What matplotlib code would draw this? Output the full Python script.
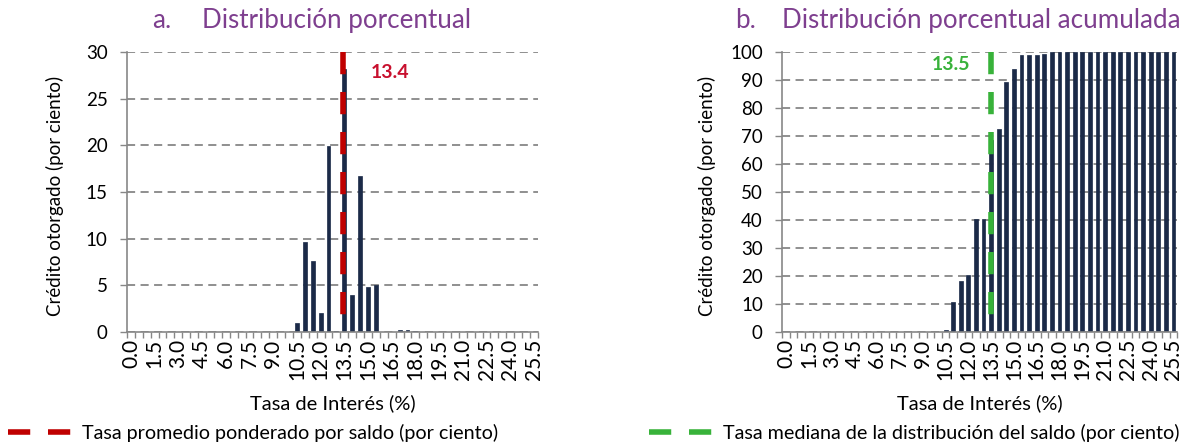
import matplotlib
matplotlib.use("Agg")
import matplotlib.pyplot as plt

plt.rcParams['font.family'] = ['Lato', 'DejaVu Sans']

# categorias de tasa de interes (%)
tasas = [0.0, 0.5, 1.0, 1.5, 2.0, 2.5, 3.0, 3.5, 4.0, 4.5, 5.0, 5.5, 6.0, 6.5,
         7.0, 7.5, 8.0, 8.5, 9.0, 9.5, 10.0, 10.5, 11.0, 11.5, 12.0, 12.5,
         13.0, 13.5, 14.0, 14.5, 15.0, 15.5, 16.0, 16.5, 17.0, 17.5, 18.0,
         18.5, 19.0, 19.5, 20.0, 20.5, 21.0, 21.5, 22.0, 22.5, 23.0, 23.5,
         24.0, 24.5, 25.0, 25.5]

# a. distribucion porcentual (por ciento)
distribucion = [0] * 21 + [1.0, 9.7, 7.6, 2.0, 19.9, 0.1, 28.2, 4.0, 16.7,
                           4.8, 5.0, 0.05, 0.0, 0.25, 0.25, 0.15] + [0] * 15

# b. distribucion porcentual acumulada (por ciento)
acumulada = [0] * 21 + [0.8, 10.6, 18.1, 20.3, 40.3, 40.4, 68.5, 72.3, 89.1,
                        93.9, 99.0, 99.0, 99.0, 99.4, 99.8, 100.0] + [100.0] * 15

tasa_media = 13.4
tasa_mediana = 13.5

navy = '#1b2a48'
grey = '#878787'
purple = '#7e3f8f'
red = '#c00000'
green = '#38b23a'

fig = plt.figure(figsize=(11.98, 4.47), dpi=100)
ax1 = fig.add_axes([0.106, 0.257, 0.343, 0.627])
ax2 = fig.add_axes([0.653, 0.257, 0.3297, 0.627])

x = list(range(len(tasas)))
step = tasas[1] - tasas[0]


def base_axes(ax, values, ymax, ystep):
    ax.bar(x, values, width=0.5, color=navy, edgecolor=navy, linewidth=0.5, zorder=2)
    ax.set_xlim(-0.5, len(tasas) - 0.5)
    ax.set_ylim(0, ymax)
    ax.set_yticks(range(0, ymax + 1, ystep))
    ax.set_xticks(x[::3])
    ax.set_xticklabels([f"{t:.1f}" for t in tasas[::3]], rotation=90, fontsize=15)
    ax.set_xticks([i - 0.5 for i in range(len(tasas) + 1)], minor=True)
    ax.tick_params(axis='x', which='major', length=0, pad=5)
    ax.tick_params(axis='x', which='minor', length=4, width=1, color=grey)
    ax.tick_params(axis='y', length=5, width=1, color=grey, labelsize=13.5, pad=9)
    for s in ['top', 'right']:
        ax.spines[s].set_visible(False)
    for s in ['left', 'bottom']:
        ax.spines[s].set_color(grey)
        ax.spines[s].set_linewidth(1.2)
    ax.yaxis.grid(True, linestyle=(0, (4.5, 3)), color=grey, linewidth=1.3)
    ax.set_axisbelow(True)
    ax.set_xlabel('Tasa de Interés (%)', fontsize=14.5, va='center')
    ax.xaxis.set_label_coords(0.5, -0.253)
    ax.set_ylabel('Crédito otorgado (por ciento)', fontsize=13.5, va='center')


base_axes(ax1, distribucion, 30, 5)
base_axes(ax2, acumulada, 100, 10)
ax1.yaxis.set_label_coords(-0.175, 0.486)
ax2.yaxis.set_label_coords(-0.19, 0.486)

pos_media = (tasa_media - tasas[0]) / step
pos_mediana = (tasa_mediana - tasas[0]) / step
l1, = ax1.plot([pos_media, pos_media], [30, 0], color=red, lw=4,
               dashes=(4, 3.2), zorder=3,
               label='Tasa promedio ponderado por saldo (por ciento)')
l2, = ax2.plot([pos_mediana, pos_mediana], [100, 0], color=green, lw=4,
               dashes=(4, 3.2), zorder=3,
               label='Tasa mediana de la distribución del saldo (por ciento)')

ax1.text(32.8, 27.75, f"{tasa_media:.1f}", color='#c8102e', fontsize=14,
         fontweight='bold', ha='center', va='center')
ax2.text(21.7, 95.4, f"{tasa_mediana:.1f}", color=green, fontsize=14,
         fontweight='bold', ha='center', va='center')

# titulos
fig.text(152 / 1198, 1 - 28 / 447, 'a.', color=purple, fontsize=18.7, va='baseline')
fig.text(202 / 1198, 1 - 28 / 447, 'Distribución porcentual', color=purple,
         fontsize=18.7, va='baseline')
fig.text(735 / 1198, 1 - 28 / 447, 'b.', color=purple, fontsize=18.7, va='baseline')
fig.text(782 / 1198, 1 - 28 / 447, 'Distribución porcentual acumulada',
         color=purple, fontsize=18.7, va='baseline')

# leyendas
fig.legend(handles=[l1], loc='center left', bbox_to_anchor=(8 / 1198, 1 - 433 / 447),
           frameon=False, fontsize=14.2, handlelength=3.3, handletextpad=0.45,
           borderpad=0, borderaxespad=0)
fig.legend(handles=[l2], loc='center left', bbox_to_anchor=(649 / 1198, 1 - 433 / 447),
           frameon=False, fontsize=14.2, handlelength=3.3, handletextpad=0.45,
           borderpad=0, borderaxespad=0)

fig.savefig('out.png', dpi=100)
